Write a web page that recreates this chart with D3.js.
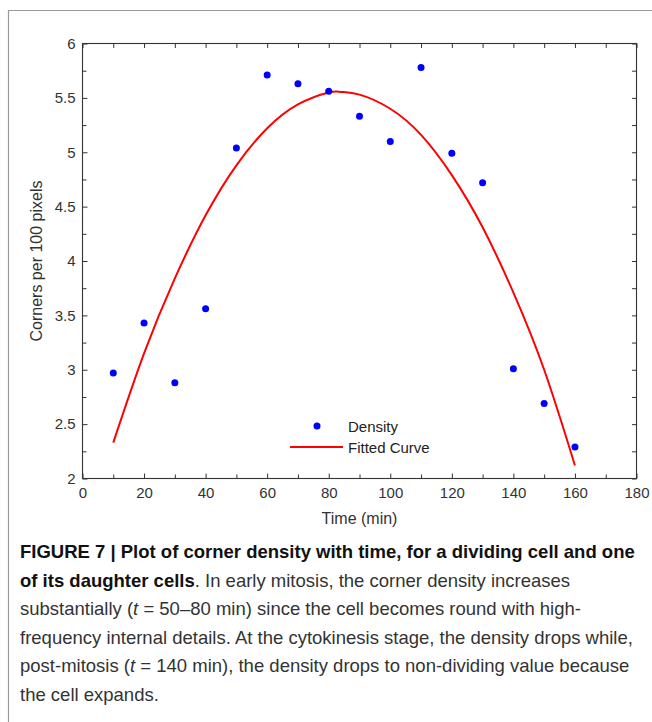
<!DOCTYPE html>
<html>
<head>
<meta charset="utf-8">
<script src="https://cdn.jsdelivr.net/npm/d3@7"></script>
<style>
  body { margin: 0; background: #fff; }
  svg { display: block; }
</style>
</head>
<body>
<div id="chart"></div>
<script>
// measured density points
const times = [10, 20, 30, 40, 50, 60, 70, 80, 90, 100, 110, 120, 130, 140, 150, 160];
const density = [2.97, 3.43, 2.88, 3.56, 5.04, 5.71, 5.63, 5.56, 5.33, 5.10, 5.78, 4.99, 4.72, 3.01, 2.69, 2.29];

// fitted curve
const fitTimes = [10, 20, 30, 40, 50, 60, 70, 80, 84, 90, 100, 110, 120, 130, 140, 150, 160];
const fitValues = [2.33, 3.15, 3.84, 4.42, 4.88, 5.22, 5.44, 5.55, 5.555, 5.53, 5.40, 5.16, 4.79, 4.31, 3.71, 3.00, 2.12];

const xTicks = [0, 20, 40, 60, 80, 100, 120, 140, 160, 180];
const xMinor = [10, 30, 50, 70, 90, 110, 130, 150, 170];
const yTicks = [2, 2.5, 3, 3.5, 4, 4.5, 5, 5.5, 6];
const yMinor = [2.25, 2.75, 3.25, 3.75, 4.25, 4.75, 5.25, 5.75];

const captionLines = [
  [{t: "FIGURE 7 | Plot of corner density with time, for a dividing cell and one", b: true}],
  [{t: "of its daughter cells", b: true}, {t: ". In early mitosis, the corner density increases"}],
  [{t: "substantially ("}, {t: "t", i: true}, {t: " = 50–80 min) since the cell becomes round with high-"}],
  [{t: "frequency internal details. At the cytokinesis stage, the density drops while,"}],
  [{t: "post-mitosis ("}, {t: "t", i: true}, {t: " = 140 min), the density drops to non-dividing value because"}],
  [{t: "the cell expands."}]
];

const W = 652, H = 722;
const font = "'Liberation Sans', Arial, Helvetica, sans-serif";
const axisColor = "#333";

const svg = d3.select("#chart").append("svg")
  .attr("width", W).attr("height", H)
  .style("font-family", font);

// figure frame (top + left rule)
svg.append("path")
  .attr("d", `M8.5,${H}V10.5H${W}`)
  .attr("fill", "none").attr("stroke", "#9a9a9a").attr("stroke-width", 1.2);

const x = d3.scaleLinear().domain([0, 180]).range([82.5, 636.5]);
const y = d3.scaleLinear().domain([2, 6]).range([478.5, 43.5]);

const plot = svg.append("g");

const styleAxis = g => {
  g.select(".domain").remove();
  g.selectAll("line").attr("stroke", axisColor);
  g.selectAll("text").attr("fill", axisColor).style("font-size", "15px").style("font-family", font);
};

// bottom axis with labels
plot.append("g").attr("transform", `translate(0,${y(2)})`)
  .call(d3.axisBottom(x).tickValues(xTicks).tickSizeInner(-5).tickSizeOuter(0).tickPadding(9).tickFormat(d => d))
  .call(styleAxis);
plot.append("g").attr("transform", `translate(0,${y(2)})`)
  .call(d3.axisBottom(x).tickValues(xMinor).tickSizeInner(-4).tickSizeOuter(0).tickFormat(""))
  .call(styleAxis);
// top mirror
plot.append("g").attr("transform", `translate(0,${y(6)})`)
  .call(d3.axisTop(x).tickValues(xTicks.concat(xMinor)).tickSizeInner(-4.5).tickSizeOuter(0).tickFormat(""))
  .call(styleAxis);
// left axis with labels
plot.append("g").attr("transform", `translate(${x(0)},0)`)
  .call(d3.axisLeft(y).tickValues(yTicks).tickSizeInner(-5).tickSizeOuter(0).tickPadding(7).tickFormat(d => d))
  .call(styleAxis);
plot.append("g").attr("transform", `translate(${x(0)},0)`)
  .call(d3.axisLeft(y).tickValues(yMinor).tickSizeInner(-4).tickSizeOuter(0).tickFormat(""))
  .call(styleAxis);
// right mirror
plot.append("g").attr("transform", `translate(${x(180)},0)`)
  .call(d3.axisRight(y).tickValues(yTicks.concat(yMinor)).tickSizeInner(-4.5).tickSizeOuter(0).tickFormat(""))
  .call(styleAxis);

// box
plot.append("rect")
  .attr("x", x(0)).attr("y", y(6))
  .attr("width", x(180) - x(0)).attr("height", y(2) - y(6))
  .attr("fill", "none").attr("stroke", axisColor).attr("stroke-width", 1.1);

// fitted curve
const line = d3.line().x((d, i) => x(fitTimes[i])).y(d => y(d)).curve(d3.curveNatural);
plot.append("path")
  .datum(fitValues)
  .attr("d", line)
  .attr("fill", "none").attr("stroke", "#ff0000").attr("stroke-width", 2);

// points
plot.append("g").selectAll("circle")
  .data(density)
  .enter().append("circle")
  .attr("cx", (d, i) => x(times[i]))
  .attr("cy", d => y(d))
  .attr("r", 3.5)
  .attr("fill", "#0000ff");

// legend
const leg = plot.append("g");
leg.append("circle").attr("cx", 317).attr("cy", 426).attr("r", 3.5).attr("fill", "#0000ff");
leg.append("line").attr("x1", 290).attr("x2", 343).attr("y1", 447).attr("y2", 447)
  .attr("stroke", "#ff0000").attr("stroke-width", 2);
leg.append("text").attr("x", 348).attr("y", 432).text("Density")
  .attr("fill", "#222").style("font-size", "15px");
leg.append("text").attr("x", 348).attr("y", 452.5).text("Fitted Curve")
  .attr("fill", "#222").style("font-size", "15px");

// axis titles
plot.append("text")
  .attr("x", (x(0) + x(180)) / 2).attr("y", 524)
  .attr("text-anchor", "middle")
  .attr("fill", axisColor).style("font-size", "16px")
  .text("Time (min)");
plot.append("text")
  .attr("transform", `translate(42,${(y(2) + y(6)) / 2}) rotate(-90)`)
  .attr("text-anchor", "middle")
  .attr("fill", axisColor).style("font-size", "16px")
  .text("Corners per 100 pixels");

// caption
const cap = svg.append("g").style("font-size", "18.5px").attr("fill", "#333");
captionLines.forEach((parts, li) => {
  const t = cap.append("text").attr("x", 20).attr("y", 558 + li * 28.6);
  parts.forEach(p => {
    t.append("tspan")
      .attr("font-weight", p.b ? "bold" : null)
      .attr("font-style", p.i ? "italic" : null)
      .attr("fill", p.b ? "#111" : null)
      .text(p.t);
  });
});
</script>
</body>
</html>
